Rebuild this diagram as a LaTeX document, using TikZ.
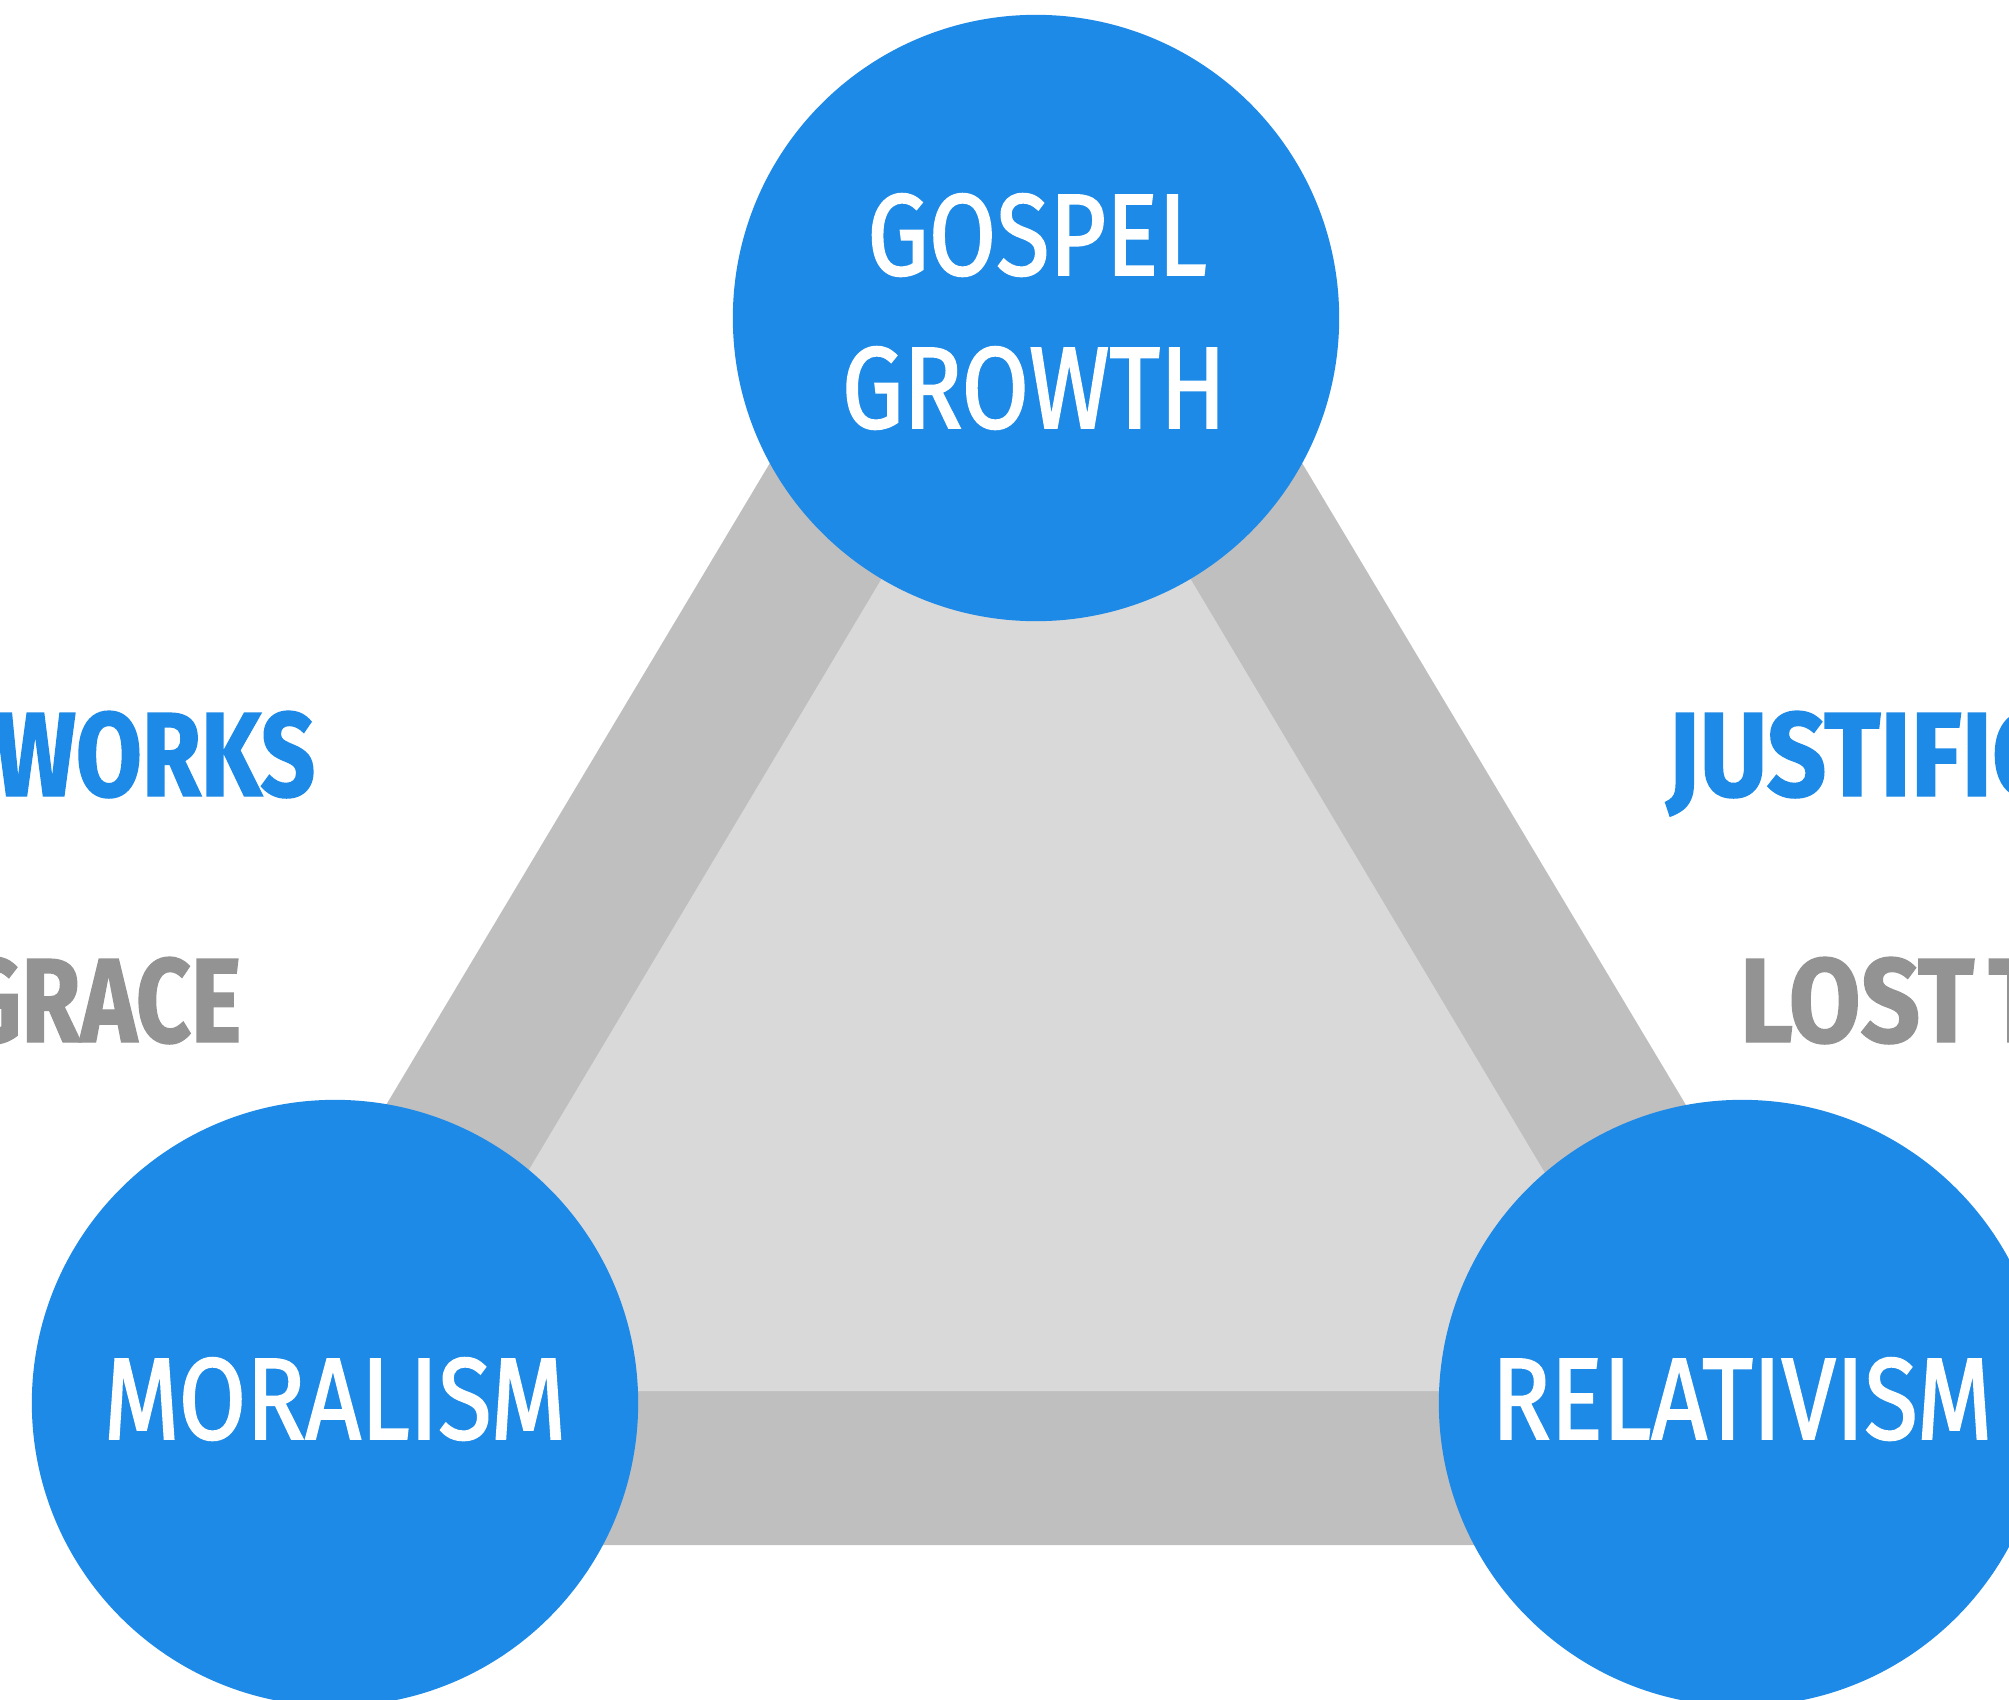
\documentclass[tikz,border=0pt]{standalone}
\usepackage{fontspec}
\setmainfont{Fira Sans}[FakeStretch=0.8]
\newfontfamily\hubfont{Fira Sans}[FakeStretch=0.84, FakeBold=1.6]
\newfontfamily\wordfont{Fira Sans}[FakeStretch=0.87, BoldFeatures={FakeBold=1.2}]
\newfontfamily\wordfontnarrow{Fira Sans}[FakeStretch=0.8, BoldFeatures={FakeBold=1.2}]
\usepackage{xcolor}
\definecolor{hubblue}{RGB}{30,138,232}
\definecolor{bandgray}{RGB}{191,191,191}
\definecolor{fillgray}{RGB}{217,217,217}
\definecolor{wordgray}{RGB}{147,147,147}
\tikzset{
	hub/.style={circle, fill=hubblue, draw=none, minimum size=6.06cm, inner sep=0pt},
	hubtext/.style={anchor=base, inner sep=0pt, text=white, font=\hubfont\fontsize{33}{40}\selectfont},
	sideword/.style={inner sep=0pt, font=\wordfont\fontsize{34}{40}\selectfont\bfseries},
	leftword/.style={sideword, anchor=base east, font=\wordfontnarrow\fontsize{34}{40}\selectfont\bfseries}
}

\begin{document}
\begin{tikzpicture}[x=0.01cm, y=-0.01cm]
	\useasboundingbox (0,0) rectangle (2009,1700);
	\fill[bandgray] (123,1545) -- (1949,1545) -- (1036,18) -- cycle;
	\fill[fillgray] (397,1391) -- (1675,1391) -- (1036,320) -- cycle;

	\node[hub] (gospel) at (1036,318) {};
	\node[hub] (moral) at (335,1403) {};
	\node[hub] (relat) at (1742,1403) {};

	\node[hubtext] (gospel1) at (1037,275) {GOSPEL};
	\node[hubtext] (gospel2) at (1034,428) {GROWTH};
	\node[hubtext] (moraltext) at (335,1439) {MORALISM};
	\node[hubtext] (relattext) at (1742,1439) {RELATIVISM};

	\node[leftword, text=hubblue] (works) at (316,796) {WORKS};
	\node[leftword, text=wordgray] (grace) at (242,1042) {GRACE};
	\node[sideword, anchor=base west, text=hubblue] (justif) at (1666,796) {JUSTIFIC};
	\node[sideword, anchor=base west, text=wordgray] (lost) at (1739,1042) {LOST\hspace{0.12em}T};
\end{tikzpicture}
\end{document}
